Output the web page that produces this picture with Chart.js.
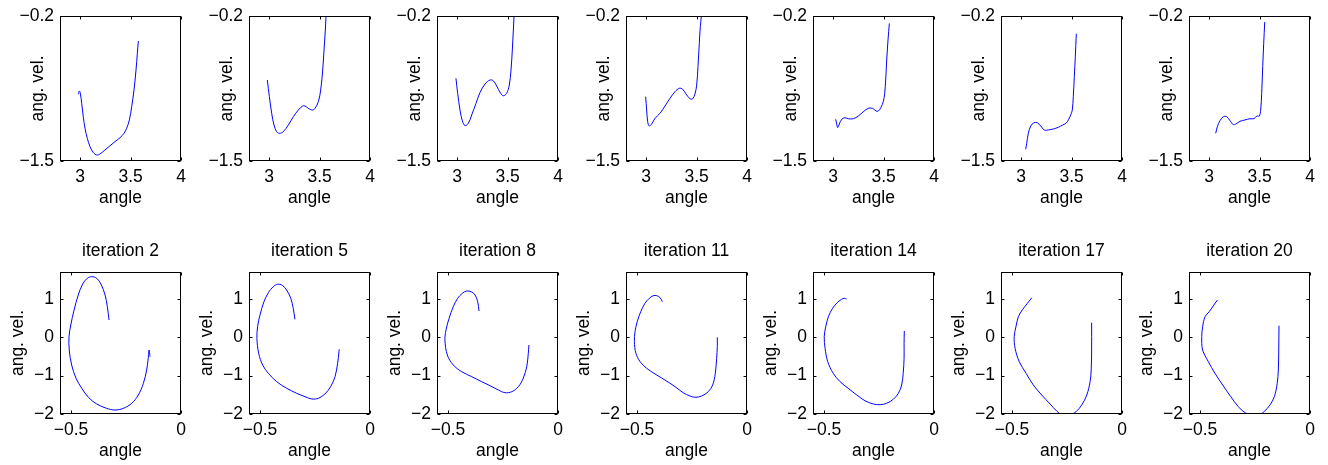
<!DOCTYPE html>
<html><head><meta charset="utf-8">
<script src="https://cdn.jsdelivr.net/npm/chart.js@4"></script>
<style>
html,body{margin:0;padding:0;background:#fff;}
#wrap{position:relative;width:1328px;height:465px;overflow:hidden;background:#fff;}
canvas{position:absolute;}
</style></head><body><div id="wrap"></div>
<script>
// ---------- data ----------
const iterations = [2, 5, 8, 11, 14, 17, 20];

const topXRange = [2.8, 4];
const topYRange = [-1.5, -0.2];
const topXTicks = [3, 3.5, 4];
const topYTicks = [-1.5, -0.2];
const botXRange = [-0.55, 0];
const botYRange = [-2, 1.7];
const botXTicks = [-0.5, 0];
const botYTicks = [-2, -1, 0, 1];

const angleTop2 = [2.982,2.992,3.002,3.015,3.031,3.048,3.071,3.098,3.131,3.164,3.197,3.246,3.296,3.345,3.395,3.435,3.461,3.488,3.511,3.534,3.554,3.567,3.577];
const velTop2   = [-0.902,-0.872,-0.893,-0.983,-1.103,-1.207,-1.297,-1.372,-1.425,-1.446,-1.437,-1.401,-1.363,-1.327,-1.291,-1.252,-1.207,-1.132,-1.013,-0.863,-0.684,-0.534,-0.424];

const angleTop5 = [2.982,3.002,3.025,3.048,3.074,3.101,3.140,3.190,3.240,3.289,3.332,3.355,3.388,3.428,3.455,3.488,3.511,3.531,3.544,3.557,3.564,3.570];
const velTop5   = [-0.774,-0.923,-1.073,-1.177,-1.237,-1.252,-1.237,-1.177,-1.103,-1.043,-1.007,-1.007,-1.028,-1.043,-1.028,-0.968,-0.863,-0.684,-0.505,-0.326,-0.200,-0.100];

const angleTop8 = [2.988,3.005,3.028,3.051,3.078,3.111,3.144,3.187,3.226,3.276,3.326,3.358,3.392,3.431,3.458,3.491,3.517,3.534,3.547,3.557,3.564,3.568];
const velTop8   = [-0.759,-0.893,-1.043,-1.139,-1.183,-1.162,-1.088,-0.983,-0.887,-0.810,-0.774,-0.780,-0.828,-0.893,-0.915,-0.893,-0.819,-0.684,-0.505,-0.326,-0.200,-0.100];

const angleTop11 = [2.995,3.005,3.015,3.031,3.055,3.088,3.137,3.187,3.236,3.286,3.329,3.362,3.395,3.435,3.461,3.484,3.501,3.514,3.527,3.537,3.547,3.551];
const velTop11   = [-0.923,-1.043,-1.148,-1.186,-1.168,-1.117,-1.073,-1.007,-0.938,-0.879,-0.848,-0.857,-0.899,-0.942,-0.942,-0.899,-0.819,-0.654,-0.445,-0.296,-0.200,-0.120];

const angleTop14 = [3.025,3.035,3.045,3.061,3.085,3.117,3.150,3.200,3.249,3.299,3.348,3.392,3.425,3.448,3.474,3.497,3.511,3.521,3.531,3.544,3.557];
const velTop14   = [-1.126,-1.168,-1.201,-1.168,-1.126,-1.112,-1.121,-1.121,-1.097,-1.058,-1.028,-1.028,-1.052,-1.052,-1.019,-0.968,-0.893,-0.774,-0.595,-0.415,-0.266];

const angleTop17 = [3.045,3.055,3.071,3.095,3.127,3.160,3.194,3.229,3.269,3.319,3.368,3.412,3.445,3.471,3.494,3.507,3.517,3.527,3.537,3.547];
const velTop17   = [-1.395,-1.341,-1.252,-1.186,-1.157,-1.157,-1.186,-1.222,-1.222,-1.213,-1.198,-1.177,-1.162,-1.126,-1.081,-1.043,-0.923,-0.744,-0.565,-0.359];

const angleTop20 = [3.065,3.081,3.107,3.140,3.174,3.207,3.239,3.266,3.306,3.355,3.405,3.445,3.471,3.497,3.511,3.521,3.531,3.541,3.551];
const velTop20   = [-1.252,-1.192,-1.139,-1.103,-1.103,-1.139,-1.174,-1.168,-1.144,-1.132,-1.121,-1.121,-1.097,-1.097,-1.043,-0.893,-0.654,-0.445,-0.254];

const angleBot2 = [-0.327,-0.335,-0.345,-0.364,-0.383,-0.406,-0.426,-0.447,-0.467,-0.486,-0.501,-0.509,-0.508,-0.497,-0.477,-0.451,-0.421,-0.383,-0.338,-0.300,-0.262,-0.224,-0.194,-0.171,-0.156,-0.149,-0.145,-0.141];
const velBot2   = [0.449,0.797,1.101,1.387,1.535,1.578,1.535,1.387,1.101,0.710,0.319,0.015,-0.332,-0.723,-1.070,-1.330,-1.565,-1.739,-1.852,-1.896,-1.852,-1.721,-1.505,-1.200,-0.853,-0.549,-0.332,-0.507];

const angleBot5 = [-0.341,-0.349,-0.360,-0.379,-0.399,-0.420,-0.440,-0.462,-0.482,-0.500,-0.511,-0.514,-0.506,-0.488,-0.462,-0.424,-0.379,-0.333,-0.295,-0.265,-0.235,-0.205,-0.179,-0.159,-0.147,-0.141,-0.140];
const velBot5   = [0.467,0.754,1.015,1.231,1.353,1.380,1.317,1.161,0.926,0.580,0.275,-0.027,-0.418,-0.723,-0.940,-1.158,-1.330,-1.461,-1.549,-1.609,-1.591,-1.479,-1.288,-1.028,-0.679,-0.377,-0.314];

const angleBot8 = [-0.359,-0.365,-0.377,-0.395,-0.415,-0.435,-0.456,-0.476,-0.495,-0.509,-0.514,-0.503,-0.476,-0.438,-0.392,-0.347,-0.309,-0.271,-0.241,-0.210,-0.180,-0.158,-0.142,-0.135,-0.132];
const velBot8   = [0.684,0.926,1.101,1.187,1.205,1.145,1.015,0.797,0.493,0.189,-0.072,-0.463,-0.723,-0.897,-1.028,-1.158,-1.262,-1.375,-1.445,-1.419,-1.288,-1.070,-0.767,-0.418,-0.202];

const angleBot11 = [-0.385,-0.395,-0.410,-0.426,-0.444,-0.464,-0.483,-0.499,-0.509,-0.512,-0.505,-0.486,-0.456,-0.418,-0.373,-0.327,-0.290,-0.259,-0.236,-0.206,-0.176,-0.156,-0.144,-0.138,-0.135,-0.135];
const velBot11   = [0.926,1.030,1.083,1.083,1.015,0.884,0.666,0.405,0.145,-0.116,-0.418,-0.637,-0.809,-0.958,-1.114,-1.288,-1.445,-1.531,-1.565,-1.531,-1.419,-1.244,-0.940,-0.549,-0.246,-0.001];

const angleBot14 = [-0.397,-0.408,-0.420,-0.440,-0.461,-0.480,-0.492,-0.499,-0.495,-0.483,-0.458,-0.427,-0.390,-0.351,-0.314,-0.276,-0.245,-0.215,-0.185,-0.162,-0.147,-0.140,-0.136,-0.136,-0.135];
const velBot14   = [0.996,1.015,0.989,0.900,0.754,0.535,0.275,0.015,-0.288,-0.637,-0.940,-1.158,-1.330,-1.505,-1.653,-1.739,-1.758,-1.721,-1.617,-1.461,-1.244,-0.940,-0.549,-0.158,0.163];

const angleBot17 = [-0.410,-0.430,-0.451,-0.471,-0.482,-0.490,-0.486,-0.467,-0.436,-0.403,-0.365,-0.327,-0.297,-0.270,-0.240,-0.209,-0.183,-0.160,-0.145,-0.140,-0.138,-0.138];
const velBot17   = [1.030,0.884,0.728,0.535,0.275,0.015,-0.288,-0.637,-0.940,-1.244,-1.505,-1.739,-1.922,-2.03,-2.03,-1.940,-1.765,-1.505,-1.158,-0.853,-0.332,0.379];

const angleBot20 = [-0.421,-0.440,-0.458,-0.477,-0.488,-0.492,-0.488,-0.462,-0.432,-0.397,-0.360,-0.326,-0.295,-0.270,-0.235,-0.209,-0.182,-0.162,-0.149,-0.144,-0.142,-0.141];
const velBot20   = [0.970,0.814,0.666,0.535,0.275,0.015,-0.332,-0.637,-0.940,-1.244,-1.549,-1.809,-1.966,-2.02,-2.02,-1.940,-1.765,-1.549,-1.200,-0.853,-0.332,0.301];

const topSeries = [[angleTop2,velTop2],[angleTop5,velTop5],[angleTop8,velTop8],[angleTop11,velTop11],[angleTop14,velTop14],[angleTop17,velTop17],[angleTop20,velTop20]];
const botSeries = [[angleBot2,velBot2],[angleBot5,velBot5],[angleBot8,velBot8],[angleBot11,velBot11],[angleBot14,velBot14],[angleBot17,velBot17],[angleBot20,velBot20]];

// ---------- layout ----------
const FONT = {family: "'Liberation Sans', Arial, Helvetica, sans-serif", size: 17.5, weight: 'normal', lineHeight: 1.2};
const boxLefts = [60, 249, 437, 626, 813, 1001, 1189];
const BOX_W = 121, AXIS_W = 60, PAD_R = 14, AXIS_H = 50;

function fmt(v) { return String(v).replace('-', '\u2212'); }

const boxPlugin = {
  id: 'matlabBox',
  afterDraw(chart) {
    const {ctx, chartArea: a, scales: {x, y}} = chart;
    const L = Math.round(a.left) + 0.5, R = Math.round(a.right) - 0.5;
    const T = Math.round(a.top) + 0.5, B = Math.round(a.bottom) - 0.5;
    ctx.save();
    ctx.strokeStyle = '#000';
    ctx.lineWidth = 1;
    ctx.beginPath();
    const tl = 3;
    x.ticks.forEach(t => {
      const px = Math.round(x.getPixelForValue(t.value)) + 0.5;
      ctx.moveTo(px, B); ctx.lineTo(px, B - tl);
      ctx.moveTo(px, T); ctx.lineTo(px, T + tl);
    });
    y.ticks.forEach(t => {
      const py = Math.round(y.getPixelForValue(t.value)) + 0.5;
      ctx.moveTo(L, py); ctx.lineTo(L + tl, py);
      ctx.moveTo(R, py); ctx.lineTo(R - tl, py);
    });
    ctx.stroke();
    ctx.strokeRect(L, T, R - L, B - T);
    ctx.restore();
  }
};

function makePanel(p) {
  const wrap = document.getElementById('wrap');
  const c = document.createElement('canvas');
  c.width = p.w; c.height = p.h;
  c.style.left = p.left + 'px'; c.style.top = p.top + 'px';
  c.style.width = p.w + 'px'; c.style.height = p.h + 'px';
  wrap.appendChild(c);
  new Chart(c, {
    type: 'line',
    data: {datasets: [{
      data: p.xs.map((x, i) => ({x: x, y: p.ys[i]})),
      borderColor: '#0000ff', borderWidth: 1, pointRadius: 0, tension: 0.35, fill: false
    }]},
    options: {
      responsive: false, animation: false, devicePixelRatio: 1,
      layout: {padding: {left: 0, right: PAD_R, top: p.padTop, bottom: 0}},
      plugins: {
        legend: {display: false}, tooltip: {enabled: false},
        title: p.title ? {display: true, fullSize: false, align: 'center', text: p.title, color: '#000', font: FONT, padding: {top: 9, bottom: 10}} : {display: false}
      },
      scales: {
        x: {
          type: 'linear', min: p.xRange[0], max: p.xRange[1],
          afterBuildTicks(s) { s.ticks = p.xTicks.map(v => ({value: v})); },
          afterFit(s) { s.height = AXIS_H; },
          grid: {display: false, drawTicks: false}, border: {display: false},
          ticks: {color: '#000', padding: 6, maxRotation: 0, autoSkip: false, font: FONT, callback: v => fmt(v)},
          title: {display: true, text: 'angle', color: '#000', font: FONT, padding: {top: 0, bottom: 2}}
        },
        y: {
          type: 'linear', min: p.yRange[0], max: p.yRange[1],
          afterBuildTicks(s) { s.ticks = p.yTicks.map(v => ({value: v})); },
          afterFit(s) { s.width = AXIS_W; },
          grid: {display: false, drawTicks: false}, border: {display: false},
          ticks: {color: '#000', padding: 6, autoSkip: false, font: FONT, callback: v => fmt(v)},
          title: {display: true, text: 'ang. vel.', color: '#000', font: FONT, padding: {top: p.yTitlePad, bottom: 0}}
        }
      }
    },
    plugins: [boxPlugin]
  });
}

boxLefts.forEach((bl, i) => {
  makePanel({
    left: bl - AXIS_W, top: -6, w: AXIS_W + BOX_W + PAD_R, h: 22 + 145 + AXIS_H, padTop: 22,
    xs: topSeries[i][0], ys: topSeries[i][1],
    xRange: topXRange, yRange: topYRange, xTicks: topXTicks, yTicks: topYTicks,
    yTitlePad: 27.5, title: null
  });
  makePanel({
    left: bl - AXIS_W, top: 232, w: AXIS_W + BOX_W + PAD_R, h: 40 + 142 + AXIS_H, padTop: 0,
    xs: botSeries[i][0], ys: botSeries[i][1],
    xRange: botXRange, yRange: botYRange, xTicks: botXTicks, yTicks: botYTicks,
    yTitlePad: 7.5, title: 'iteration ' + iterations[i]
  });
});
</script>
</body></html>
